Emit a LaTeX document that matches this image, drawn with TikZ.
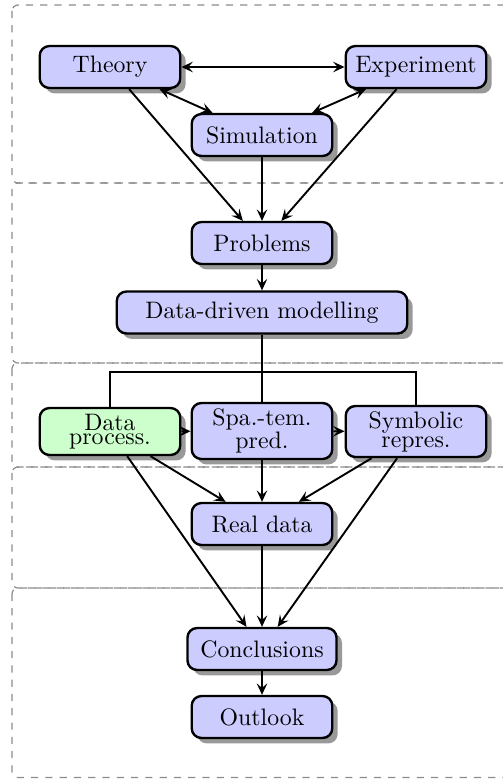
\documentclass[tikz,border=0pt]{standalone}
\usetikzlibrary{shadows,arrows.meta}
\begin{document}
\begin{tikzpicture}[x=0.42pt,y=-0.42pt,
  box/.style={draw=black, line width=1pt, rounded corners=4pt, fill=blue!20,
    minimum width=59pt, minimum height=17.6pt, inner xsep=4pt, inner ysep=2pt,
    align=center,
    drop shadow={shadow xshift=2.3pt, shadow yshift=-2.3pt, fill=black!40, opacity=1}},
  tip/.tip={Stealth[length=4.8pt,width=4.4pt,inset=1.9pt]},
  link/.style={line width=0.8pt},
  conn/.style={link, -tip},
  bconn/.style={link, tip-tip},
  region/.style={draw=black!45, dashed, line width=0.5pt, rounded corners=2.5pt}]
\useasboundingbox (0,0) rectangle (503,779);
\clip (0,0) rectangle (503,779);
% regions
\draw[region] (12,5) rectangle (530,183);
\draw[region] (12,183) rectangle (530,363);
\draw[region] (12,363) rectangle (530,467);
\draw[region] (12,467) rectangle (530,588);
\draw[region] (12,588) rectangle (530,777.5);
% nodes
\node[box] (theory) at (110,67) {Theory};
\node[box] (exp) at (416,67) {Experiment};
\node[box] (sim) at (262,135) {Simulation};
\node[box] (prob) at (262,243) {Problems};
\node[box, minimum width=122pt] (ddm) at (262,312.5) {Data-driven modelling};
\node[box, fill=green!20, minimum height=19.7pt] (data) at (110,431.5) {Data\\[-6pt]process.};
\node[box, minimum height=23.5pt] (spa) at (262,431) {Spa.-tem.\\[-2pt]pred.};
\node[box, minimum height=21.4pt] (sym) at (416,431.5) {Symbolic\\[-4pt]repres.};
\node[box] (real) at (262,524) {Real data};
\node[box, minimum width=62.6pt] (conc) at (262,649) {Conclusions};
\node[box] (out) at (262,717) {Outlook};
% connectors
\draw[bconn] (theory) -- (exp);
\draw[bconn] (theory) -- (sim);
\draw[bconn] (exp) -- (sim);
\draw[conn] (theory) -- (prob);
\draw[conn] (sim) -- (prob);
\draw[conn] (exp) -- (prob);
\draw[conn] (prob) -- (ddm);
\coordinate (bus) at (262,372);
\draw[link] (ddm) -- (spa);
\draw[link] (data.north) |- (bus) -| (sym.north);
\draw[conn] (data) -- (spa);
\draw[conn] (spa) -- (sym);
\draw[conn] (data) -- (real);
\draw[conn] (data) -- (conc);
\draw[conn] (spa) -- (real);
\draw[conn] (real) -- (conc);
\draw[conn] (sym) -- (real);
\draw[conn] (sym) -- (conc);
\draw[conn] (conc) -- (out);
\end{tikzpicture}
\end{document}
